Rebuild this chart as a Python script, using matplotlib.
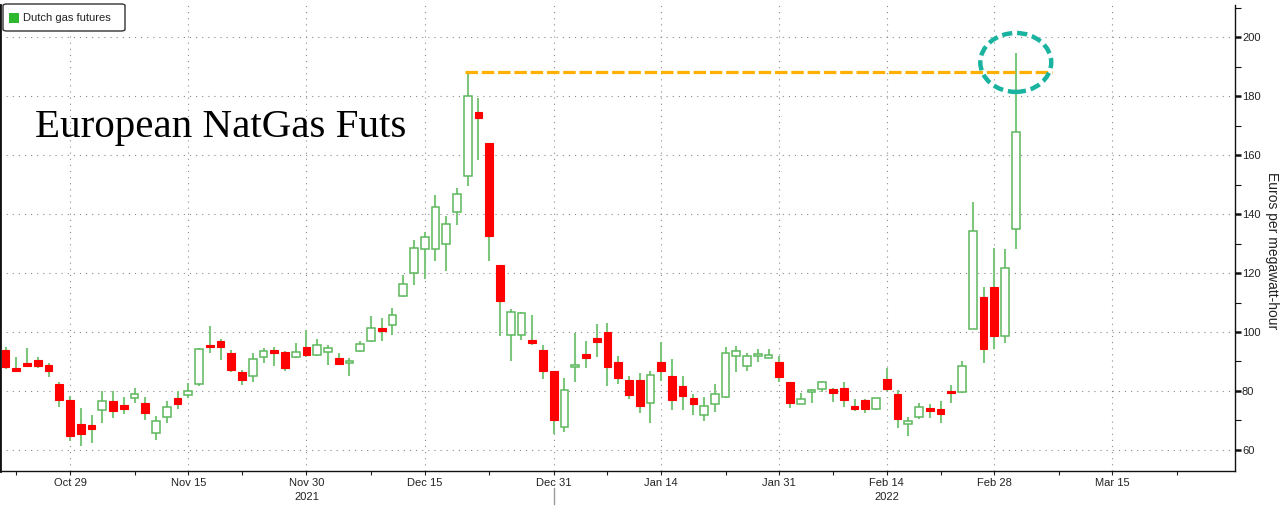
import numpy as np
import pandas as pd
import matplotlib
matplotlib.use("Agg")
import matplotlib.pyplot as plt
from matplotlib.patches import Ellipse, Rectangle, FancyBboxPatch

# ---------------- data (Euros per MWh) ----------------
start_date = "2021-10-21"
end_date = "2022-03-02"
opens = [93.9, 87.5, 89.4, 90.5, 88.7, 82.3, 76.9, 68.9, 68.3, 73.4,
         76.6, 75.1, 77.6, 76.0, 65.7, 71.2, 77.7, 78.6, 82.3, 95.4,
         96.9, 92.9, 86.3, 85.1, 91.4, 93.6, 93.1, 91.4, 94.9, 92.2,
         93.1, 91.3, 89.4, 93.7, 96.8, 101.3, 102.4, 112.2, 119.9, 128.0,
         128.0, 129.8, 140.7, 153.0, 174.7, 164.1, 122.8, 99.0, 99.0, 97.2,
         94.0, 86.8, 67.7, 88.0, 92.4, 97.8, 99.9, 89.9, 83.8, 83.8,
         75.8, 89.9, 84.9, 81.7, 77.7, 71.9, 75.5, 77.9, 92.0, 88.6,
         91.8, 91.4, 89.9, 83.1, 75.5, 79.8, 80.6, 80.8, 81.0, 74.5,
         76.8, 73.7, 84.0, 79.1, 68.9, 71.1, 73.9, 73.7, 79.9, 79.7,
         100.9, 111.9, 115.1, 98.6, 134.9]
highs = [94.9, 91.4, 94.6, 91.4, 89.4, 83.1, 78.3, 74.2, 71.7, 80.0,
         80.0, 77.9, 81.0, 77.9, 71.4, 76.6, 80.0, 82.6, 94.6, 101.9,
         97.7, 93.9, 87.2, 92.9, 94.7, 94.9, 93.7, 96.2, 100.6, 97.5,
         95.7, 92.9, 91.1, 96.8, 105.4, 104.6, 108.0, 119.3, 131.2, 134.0,
         146.4, 139.4, 149.0, 188.2, 179.4, 164.1, 122.8, 107.8, 106.7, 105.9,
         95.6, 86.8, 84.5, 99.7, 96.9, 102.7, 103.0, 91.9, 84.9, 86.0,
         86.8, 96.6, 90.9, 84.9, 78.9, 77.9, 82.3, 94.9, 95.4, 92.9,
         94.3, 94.3, 92.0, 83.1, 79.4, 80.8, 83.4, 81.1, 82.9, 77.4,
         77.1, 77.7, 87.8, 80.3, 71.1, 76.0, 75.4, 76.6, 81.9, 90.3,
         144.2, 115.1, 128.6, 128.3, 194.7]
lows = [87.4, 86.9, 88.3, 87.7, 84.6, 74.6, 62.9, 61.4, 62.3, 69.1,
        70.9, 72.3, 75.8, 70.1, 63.2, 69.1, 73.9, 77.7, 81.7, 92.9,
        90.6, 86.3, 82.1, 82.9, 89.4, 88.6, 86.9, 91.2, 91.4, 91.8,
        88.9, 88.9, 85.1, 93.1, 96.6, 96.8, 98.9, 112.0, 115.9, 118.0,
        124.0, 120.6, 136.3, 149.5, 158.4, 124.0, 98.5, 90.0, 97.4, 95.6,
        84.0, 65.2, 66.1, 83.1, 87.6, 91.4, 81.7, 82.3, 77.2, 72.6,
        69.2, 83.4, 73.5, 73.5, 71.7, 69.7, 72.8, 77.7, 86.5, 86.9,
        89.9, 91.1, 83.1, 74.3, 75.4, 76.0, 79.7, 76.2, 74.6, 73.1,
        72.6, 73.4, 80.0, 67.4, 64.6, 70.5, 70.9, 69.1, 75.8, 79.4,
        100.9, 89.6, 94.3, 96.4, 128.3]
closes = [88.2, 87.1, 88.7, 88.3, 86.7, 76.8, 64.6, 65.5, 67.2, 76.6,
          73.1, 73.7, 78.9, 72.6, 69.9, 74.6, 75.4, 80.0, 94.3, 95.0,
          95.0, 87.1, 83.8, 90.9, 93.7, 93.0, 87.7, 93.3, 92.2, 95.7,
          94.7, 89.1, 90.1, 96.0, 101.5, 100.5, 105.8, 116.2, 128.4, 132.3,
          142.5, 136.8, 146.8, 180.2, 172.8, 132.6, 110.5, 106.7, 106.5, 96.5,
          86.7, 70.0, 80.3, 88.8, 91.3, 96.5, 88.0, 84.3, 78.5, 74.9,
          85.3, 86.7, 76.8, 78.3, 75.5, 74.9, 78.9, 92.8, 93.5, 91.8,
          92.5, 92.1, 84.6, 75.8, 77.1, 80.2, 82.9, 79.4, 76.9, 74.2,
          73.9, 77.5, 80.6, 70.6, 69.7, 74.6, 73.4, 72.3, 79.4, 88.6,
          134.2, 94.3, 98.6, 121.8, 168.0]

major_dates = ["2021-10-29", "2021-11-15", "2021-11-30", "2021-12-15", "2021-12-31",
               "2022-01-14", "2022-01-31", "2022-02-14", "2022-02-28", "2022-03-15"]
major_labels = ["Oct 29", "Nov 15", "Nov 30", "Dec 15", "Dec 31",
                "Jan 14", "Jan 31", "Feb 14", "Feb 28", "Mar 15"]
minor_dates = ["2021-10-22", "2021-11-08", "2021-11-22", "2021-12-08", "2021-12-23",
               "2022-01-07", "2022-01-24", "2022-02-07", "2022-02-21", "2022-03-08",
               "2022-03-23"]
year_labels = ["2021", "2022"]
year_label_dates = ["2021-11-30", "2022-02-14"]
year_sep_date = "2021-12-31"

prior_high = 188.2
series_name = "Dutch gas futures"
title_text = "European NatGas Futs"
y_label = "Euros per megawatt-hour"

# ---------------- helpers ----------------
ref = np.datetime64("2021-10-29")
def bpos(d):
    return int(np.busday_count(ref, np.datetime64(d))) if np.datetime64(d) >= ref \
        else -int(np.busday_count(np.datetime64(d), ref))

dates = pd.bdate_range(start_date, end_date)
x = np.array([bpos(d.strftime("%Y-%m-%d")) for d in dates], dtype=float)
o = np.array(opens); h = np.array(highs); l = np.array(lows); c = np.array(closes)

W, H = 1280, 509
fig = plt.figure(figsize=(W / 100, H / 100), dpi=100)
ax = fig.add_axes([0.0, (H - 471) / H, 1235 / W, (471 - 5) / H])

GREEN_WICK = "#7cc77c"
GREEN_EDGE = "#5cb85c"
RED = "#ff0000"

up = c >= o
bw = 0.72
minh = 0.9
bottoms = np.minimum(o, c)
heights = np.maximum(np.abs(c - o), minh)
bottoms = np.where(np.abs(c - o) < minh, (o + c) / 2 - minh / 2, bottoms)

ax.vlines(x, l, h, color=GREEN_WICK, lw=1.5, zorder=2)
ax.bar(x[up], heights[up], bottom=bottoms[up], width=bw, facecolor="white",
       edgecolor=GREEN_EDGE, linewidth=1.1, zorder=3)
ax.bar(x[~up], heights[~up], bottom=bottoms[~up], width=bw, facecolor=RED,
       edgecolor=RED, linewidth=0.8, zorder=3)

# prior-high dashed line and highlight ellipse
x_line0 = bpos("2021-12-21") - 0.25
x_line1 = bpos("2022-03-07") + 0.4
ax.plot([x_line0, x_line1], [prior_high, prior_high], color="#ffb000", lw=2.3,
        dashes=(3.9, 1.2), zorder=5, solid_capstyle="butt", dash_capstyle="butt")
ell = Ellipse((x[-1], 191.5), width=6.6, height=20.0, fill=False,
              edgecolor="#1ab39f", lw=3.2, linestyle=(0, (2.3, 1.1)), zorder=6)
ax.add_patch(ell)

# axes limits / ticks
ax.set_xlim(-6.52, 108.4)
ax.set_ylim(52.8, 211.0)

ax.set_xticks([bpos(d) for d in major_dates])
ax.set_xticklabels(major_labels)
ax.set_xticks([bpos(d) for d in minor_dates], minor=True)
ax.yaxis.tick_right()
ax.set_yticks(np.arange(60, 201, 20))
ax.set_yticks(np.arange(70, 211, 20), minor=True)

tick_font = dict(family="Liberation Sans", size=8, color="#222222")
for lab in ax.get_xticklabels() + ax.get_yticklabels():
    lab.set_fontfamily("Liberation Sans")
    lab.set_fontsize(8)
    lab.set_color("#222222")

ax.tick_params(axis="x", which="both", direction="out", length=3, width=0.8,
               color="#222222", pad=2)
ax.tick_params(axis="y", which="major", direction="out", length=4, width=1.8,
               color="#111111", pad=1)
ax.tick_params(axis="y", which="minor", direction="out", length=4, width=0.8,
               color="#111111")

ax.grid(True, which="major", axis="both", color="#8a8a8a", lw=0.8,
        linestyle=(0, (1, 4.5)))
ax.set_axisbelow(True)

for s in ["top"]:
    ax.spines[s].set_visible(False)
ax.spines["left"].set_linewidth(2.0)
ax.spines["left"].set_color("#111111")
ax.spines["right"].set_color("#111111")
ax.spines["bottom"].set_color("#111111")
ax.spines["right"].set_linewidth(1.0)
ax.spines["bottom"].set_linewidth(1.0)

# year labels and separator
for lab, d in zip(year_labels, year_label_dates):
    ax.text(bpos(d), -26 / 466, lab, transform=ax.get_xaxis_transform(),
            ha="center", va="center", **tick_font)
ax.plot([bpos(year_sep_date)] * 2, [-17 / 466, -33 / 466], color="#999999",
        lw=1.0, transform=ax.get_xaxis_transform(), clip_on=False)

# y label
fig.text(1272 / W, 1 - 251 / H, y_label, rotation=270, ha="center", va="center",
         family="Liberation Sans", fontsize=10, color="#222222")

# title text
fig.text(35 / W, 1 - 137 / H, title_text, family="Liberation Serif", fontsize=29.5,
         color="black", ha="left", va="baseline")

# legend box
fig.patches.append(FancyBboxPatch((3 / W, 1 - 31 / H), 122 / W, 27 / H,
                                  boxstyle="round,pad=0,rounding_size=0.003",
                                  transform=fig.transFigure, facecolor="white",
                                  edgecolor="#333333", lw=1.0, zorder=10))
fig.patches.append(Rectangle((9 / W, 1 - 23 / H), 10 / W, 10 / H,
                             transform=fig.transFigure, facecolor="#2eb82e",
                             edgecolor="none", zorder=11))
fig.text(23 / W, 1 - 18 / H, series_name, family="Liberation Sans", fontsize=8,
         color="#222222", ha="left", va="center", zorder=12)

fig.savefig("out.png", dpi=100)
